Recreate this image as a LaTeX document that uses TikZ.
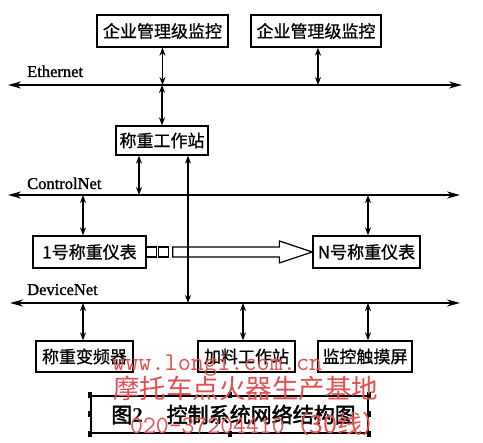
\documentclass[tikz,border=0pt]{standalone}
\usepackage{fontspec}
\setmainfont{Liberation Serif}
\newfontfamily\cjk{Noto Sans CJK SC}
\newfontfamily\cjkbox{Noto Sans CJK SC}[FakeBold=0.8]
\newfontfamily\cjkbold{Noto Sans CJK SC}[FakeBold=2]
\newfontfamily\busfont{Liberation Serif}[FakeBold=1.2]
\usetikzlibrary{arrows.meta}
\definecolor{wm}{RGB}{228,78,78}
\begin{document}
\begin{tikzpicture}[x=1pt,y=-1pt,
  box/.style={draw, line width=1.3pt, inner sep=0pt, minimum height=31pt, font=\cjkbox\fontsize{17}{17}\selectfont},
  bus/.style={line width=1.6pt, {Stealth[length=13pt,width=7pt]}-{Stealth[length=13pt,width=7pt]}},
  link/.style={line width=1.5pt, {Stealth[length=8pt,width=6pt]}-{Stealth[length=8pt,width=6pt]}},
  busname/.style={anchor=base west, font=\busfont\fontsize{16.5}{16.5}\selectfont, inner sep=0pt},
  handle/.style={fill=black, minimum width=4pt, minimum height=6pt, inner sep=0pt},
  wmtext/.style={text=wm, inner sep=0pt}]
\useasboundingbox (0,0) rectangle (483,443);
\fill[white] (0,0) rectangle (483,443);

% buses
\coordinate (ethL) at (8,85);   \coordinate (ethR) at (462,85);
\coordinate (ctlL) at (8,195);  \coordinate (ctlR) at (460,195);
\coordinate (devL) at (10,303); \coordinate (devR) at (460,303);
\draw[bus] (ethL) -- (ethR);
\draw[bus] (ctlL) -- (ctlR);
\draw[bus] (devL) -- (devR);
\node[busname] (ethname) at (27,77) {Ethernet};
\node[busname] (ctlname) at (27,189) {ControlNet};
\node[busname] (devname) at (27,295) {DeviceNet};

% boxes
\node[box, minimum width=131pt, minimum height=32pt] (m1) at (162.5,31) {企业管理级监控};
\node[box, minimum width=130pt, minimum height=32pt] (m2) at (316,31) {企业管理级监控};
\node[box, minimum width=92pt, minimum height=29pt] (ws) at (162,140.5) {称重工作站};
\node[box, minimum width=113pt, minimum height=32pt] (inst1) at (89.5,252) {1号称重仪表};
\node[box, minimum width=107pt, minimum height=32pt] (instN) at (366.5,252) {N号称重仪表};
\node[box, minimum width=97pt] (vfd) at (84.5,356.5) {称重变频器};
\node[box, minimum width=97pt] (feed) at (246.5,356.5) {加料工作站};
\node[box, minimum width=94pt] (hmi) at (365,356.5) {监控触摸屏};

% links
\draw[link] (m1.south) -- (m1.south |- ethL);
\draw[link] ([xshift=2pt]m2.south) -- ([xshift=2pt]m2.south |- ethL);
\draw[link] (ws.north) -- (ws.north |- ethL);
\draw[link] ([xshift=-23pt]ws.south) -- ([xshift=-23pt]ws.south |- ctlL);
\draw[link] ([xshift=-6.5pt]inst1.north) -- ([xshift=-6.5pt]inst1.north |- ctlL);
\draw[link] ([xshift=1.5pt]instN.north) -- ([xshift=1.5pt]instN.north |- ctlL);
\draw[link] ([xshift=-1.5pt]vfd.north) -- ([xshift=-1.5pt]vfd.north |- devL);
\draw[link] ([xshift=-3.5pt]feed.north) -- ([xshift=-3.5pt]feed.north |- devL);
\draw[link] ([xshift=3pt]hmi.north) -- ([xshift=3pt]hmi.north |- devL);

% hollow arrow from 1 to N
\draw[line width=1.2pt] ([xshift=0pt,yshift=5pt]inst1.east) rectangle ([xshift=10pt,yshift=-5pt]inst1.east);
\draw[line width=1.2pt] ([xshift=12pt,yshift=5pt]inst1.east) rectangle ([xshift=22pt,yshift=-5pt]inst1.east);
\draw[line width=1.2pt, fill=white, line join=miter]
  ([xshift=26pt,yshift=5pt]inst1.east) -- ([xshift=-33pt,yshift=5pt]instN.west)
  -- ([xshift=-33pt,yshift=11pt]instN.west) -- (instN.west)
  -- ([xshift=-33pt,yshift=-11pt]instN.west) -- ([xshift=-33pt,yshift=-5pt]instN.west)
  -- ([xshift=26pt,yshift=-5pt]inst1.east) -- cycle;

% long link from workstation to DeviceNet
\draw[link] ([xshift=26pt]ws.south) -- ([xshift=26pt]ws.south |- devL);

% caption
\node[draw, line width=1.3pt, minimum width=277pt, minimum height=37pt, inner sep=0pt] (cap) at (229.5,414.5)
  {\hspace{8pt}{\cjkbold\fontsize{21}{21}\selectfont 图}{\bfseries\fontsize{21}{21}\selectfont 2}\hspace{24pt}{\cjkbold\fontsize{21}{21}\selectfont 控制系统网络结构图}};
\node[handle] (h1) at (cap.north west) {};
\node[handle] (h2) at (cap.west) {};
\node[handle] (h3) at (cap.south west) {};
\node[handle] (h4) at (cap.south) {};
\node[handle] (h5) at (cap.north) {};
\node[handle] (h6) at (cap.north east) {};
\node[handle] (h7) at (cap.east) {};
\node[handle] (h8) at (cap.south east) {};

% watermark
\node[wmtext, anchor=base west, font=\ttfamily\fontsize{25.5}{25.5}\selectfont] (wm1) at (112,371) {www.longi.com.cn};
\node[wmtext, anchor=west, font=\cjk\fontsize{26.5}{26.5}\selectfont] (wm2) at (113,388) {摩托车点火器生产基地};
\node[wmtext, anchor=west] (wm3) at (130,424) {{\ttfamily\fontsize{25}{25}\selectfont 020-37204410}{\cjk\fontsize{25}{25}\selectfont （30线）}};
\end{tikzpicture}
\end{document}
